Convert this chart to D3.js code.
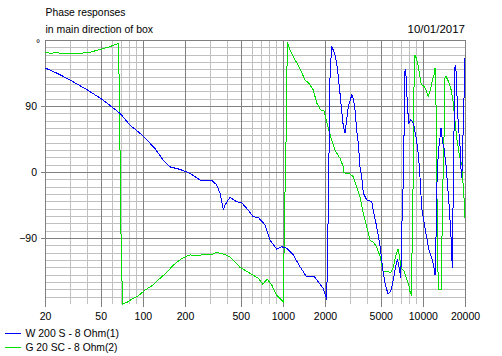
<!DOCTYPE html>
<html><head><meta charset="utf-8">
<script src="https://cdn.jsdelivr.net/npm/d3@7"></script>
<style>
html,body{margin:0;padding:0;background:#fff;}
svg{display:block;}
text{font-family:"Liberation Sans",Arial,sans-serif;font-size:10.5px;fill:#000;}
</style></head>
<body><svg id="c" width="502" height="356"></svg>
<script>
const titleLines = ["Phase responses", "in main direction of box"];
const dateLabel = "10/01/2017";
const freqTicks = [20, 50, 100, 200, 500, 1000, 2000, 5000, 10000, 20000];
const phaseTicks = [-90, 0, 90];
const seriesNames = ["W 200 S - 8 Ohm(1)", "G 20 SC - 8 Ohm(2)"];

const blueFreq = [20,24.2,30.2,40.1,50.8,68.7,80.9,100.7,122,140,156,184,217,256,310,337,356,376,386,419,468,508,566,615,668,745,809,904,982,1064,1187,1324,1479,1667,1791,1945,2056,2076,2113,2171,2232,2292,2356,2424,2490,2560,2630,2704,2780,2858,2932,3104,3186,3276,3368,3458,3557,3656,3756,3972,4312,4426,4678,4940,5192,5396,5636,5892,6124,6354,6566,6718,6950,7016,7096,7212,7332,7414,7536,7618,7746,7926,8190,8414,8650,8974,9232,9492,9662,9818,9978,10352,10766,11118,11562,11886,12218,12416,12562,12884,13244,13490,13646,13868,14158,14622,14952,15446,15814,16070,16220,16332,16484,16790,16984,17260,17460,17620,17908,18408,18708,18924,19144,19456,19772,20000];
const bluePhase = [142,135,125.5,112,99.5,80,64,49,32,16,7,3.6,-1.8,-11,-11,-17.7,-29,-52,-45,-34.5,-40.5,-42,-52,-61,-62,-72,-93,-105,-102,-104,-113,-129,-143,-142,-150,-159,-174,-131,-45,128,172,166,159.5,148,130,107,84.5,62,52.7,71,89,105,100.5,84.5,57,39,7,-6.4,-29,-38,-40.5,-52,-74.6,-100,-135,-154,-166,-163,-149,-131,-120,-126,-145,-113,-67,-26,46,137,139.5,123.7,92,67,71,69,62,46,28,1,-26,-50,-58,-76,-94.5,-108,-117,-126,-140,-90,-22,26,46,60,51,39.5,32.7,10,-12.7,-49,-81,-108,-131,-90,-22,92,146,137,114.5,92,64.5,37,5.5,-8,10,69,114.5,155];

const greenFreq = [20,21.7,24.2,27.8,31.8,35.6,40.8,49.4,58.3,65.0,66.8,67.9,69.0,70.2,71.8,76.7,83.2,92.7,103.6,118.7,132.5,148,165,189,217,242,278,310,337,376,419,494,582,668,718,774,832,904,1008,1028,1058,1076,1125,1222,1324,1439,1520,1650,1745,1864,1968,2113,2232,2356,2560,2704,2734,3018,3186,3368,3557,3756,3972,4192,4426,4678,4940,5192,5482,5892,6124,6354,6642,6834,7016,7332,7618,7926,8134,8268,8364,8506,8650,8750,8974,9232,9492,9750,10190,10526,10940,11246,11750,12016,12218,12416,12562,12884,13490,13646,13760,14158,14388,14622,15206,15814,16332,16984,17460,18212,18622,19044,19456,19772,20000];
const greenPhase = [163,162,162.5,161.5,161,162,162.7,167,171,174.5,175,116,-4,-120,-180,-178,-173.6,-169,-161,-154,-145,-137,-127,-118,-113,-114.5,-112,-113,-109.5,-112,-115.5,-130,-138,-145,-153,-146,-154,-168,-177,-60,60,177.7,166,153,141,125.5,122,112,94,84.5,83.6,60,43.6,30,18.6,7,-1,-2.7,-6.4,-20,-33.6,-56,-74.6,-93,-96,-102,-115,-135,-135,-137,-131,-117,-104.6,-117,-131,-135,-144.5,-153.7,-165,-167,-113,-22,119,160,155.5,146,132.7,119,116.8,112,103,110,126,132.7,141.8,92,-8,-160.5,-160.5,-126,-53.6,46,128,130.5,123.7,114.5,101,69,46,23.6,14.6,10,-22,-40,-62.7];

const L = 45, R = 465, T = 40, B = 304;
const svg = d3.select("#c");
svg.append("rect").attr("width",502).attr("height",356).attr("fill","#fff");

const x = d3.scaleLog().domain([20, 20000]).range([L, R]);
const y = d3.scaleLinear().domain([-180, 180]).range([B, T]);

const LIGHT = "#c0c0c0", DARK = "#808080";
const grid = svg.append("g").attr("shape-rendering","crispEdges");

d3.range(-170, 180, 10).forEach(p => {
  grid.append("line").attr("x1",L).attr("x2",R)
    .attr("y1",Math.round(y(p))+0.5).attr("y2",Math.round(y(p))+0.5)
    .attr("stroke", phaseTicks.includes(p) ? DARK : LIGHT);
});
x.ticks().filter(f => f > 20 && f < 20000).forEach(f => {
  const major = freqTicks.includes(f);
  const px = Math.round(x(f))+0.5;
  grid.append("line").attr("x1",px).attr("x2",px).attr("y1",T).attr("y2",major ? B+3 : B)
    .attr("stroke", major ? DARK : LIGHT);
});
phaseTicks.forEach(p => {
  grid.append("line").attr("x1",L-4).attr("x2",R)
    .attr("y1",Math.round(y(p))+0.5).attr("y2",Math.round(y(p))+0.5).attr("stroke",DARK);
});
grid.append("line").attr("x1",L).attr("x2",R+1).attr("y1",T+0.5).attr("y2",T+0.5).attr("stroke",DARK);
grid.append("line").attr("x1",L+0.5).attr("x2",L+0.5).attr("y1",T).attr("y2",B+3).attr("stroke",DARK);
grid.append("line").attr("x1",R+0.5).attr("x2",R+0.5).attr("y1",T).attr("y2",B+3).attr("stroke",DARK);

const xAxis = d3.axisBottom(x).tickValues(freqTicks).tickFormat(d3.format("d")).tickSize(0).tickPadding(0);
const gx = svg.append("g").attr("transform",`translate(0,${B})`).call(xAxis);
gx.select(".domain").remove();
gx.selectAll("text").attr("y",15.5).attr("dy",0).style("font-size","10.5px").attr("font-family","Liberation Sans, Arial, sans-serif").attr("fill","#000");

const yAxis = d3.axisLeft(y).tickValues(phaseTicks).tickSize(0).tickPadding(0);
const gy = svg.append("g").attr("transform",`translate(${L},0)`).call(yAxis);
gy.select(".domain").remove();
gy.selectAll("text").attr("x",-8).attr("dy","0.35em").style("font-size","10.5px").attr("font-family","Liberation Sans, Arial, sans-serif").attr("fill","#000");

svg.append("text").attr("x",38).attr("y",47).attr("text-anchor","middle").text("°");

svg.append("text").attr("x",45.5).attr("y",16).attr("textLength",80).attr("lengthAdjust","spacingAndGlyphs").text(titleLines[0]);
svg.append("text").attr("x",45.5).attr("y",33).attr("textLength",107.5).attr("lengthAdjust","spacingAndGlyphs").text(titleLines[1]);
svg.append("text").attr("x",407.5).attr("y",33).attr("textLength",57.5).attr("lengthAdjust","spacingAndGlyphs").text(dateLabel);

svg.append("clipPath").attr("id","clip").append("rect").attr("x",L).attr("y",T).attr("width",R-L+1).attr("height",B-T+1);
const line = d3.line().x(d => x(d[0])).y(d => y(d[1]));
const blue = blueFreq.map((f,i) => [f, bluePhase[i]]);
const green = greenFreq.map((f,i) => [f, greenPhase[i]]);
const plot = svg.append("g").attr("clip-path","url(#clip)");
plot.append("path").datum(green).attr("d",line).attr("fill","none").attr("stroke","#00e000").attr("stroke-width",1).attr("shape-rendering","crispEdges");
plot.append("path").datum(blue).attr("d",line).attr("fill","none").attr("stroke","#0000ff").attr("stroke-width",1).attr("shape-rendering","crispEdges");

const colors = ["#0000ff", "#00e000"];
const legendWidths = [93.5, 92];
seriesNames.forEach((n,i) => {
  const yy = 333 + i*14;
  svg.append("line").attr("x1",5).attr("x2",21).attr("y1",yy+0.5).attr("y2",yy+0.5)
    .attr("stroke",colors[i]).attr("shape-rendering","crispEdges");
  svg.append("text").attr("x",25.5).attr("y",yy+4).attr("textLength",legendWidths[i]).attr("lengthAdjust","spacingAndGlyphs").text(n);
});
</script></body></html>
